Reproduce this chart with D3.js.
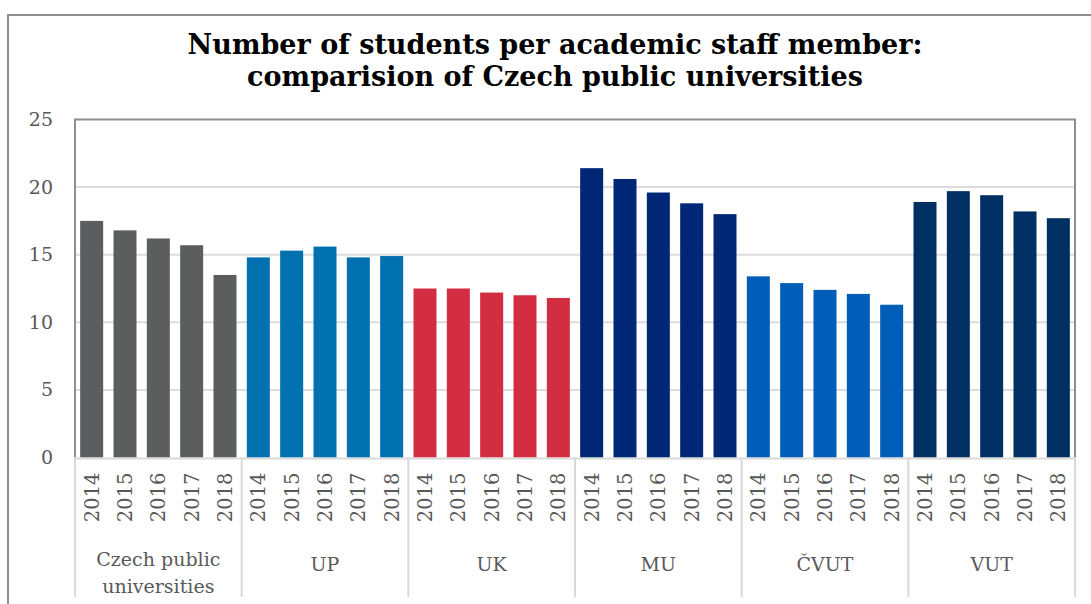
<!DOCTYPE html>
<html>
<head>
<meta charset="utf-8">
<script src="https://cdn.jsdelivr.net/npm/d3@7"></script>
<style>
  html, body { margin: 0; padding: 0; background: #fff; }
  svg { display: block; }
</style>
</head>
<body>
<svg id="chart" width="1091" height="604"></svg>
<script>
const groups = ["Czech public universities", "UP", "UK", "MU", "ČVUT", "VUT"];
const groupLabelLines = [["Czech public", "universities"], ["UP"], ["UK"], ["MU"], ["ČVUT"], ["VUT"]];
const years = ["2014", "2015", "2016", "2017", "2018"];
const groupColors = ["#5c5d5f", "#0070ae", "#d22d40", "#002776", "#005eb8", "#002f63"];
const valuesCzech = [17.5, 16.8, 16.2, 15.7, 13.5];
const valuesUP = [14.8, 15.3, 15.6, 14.8, 14.9];
const valuesUK = [12.5, 12.5, 12.2, 12.0, 11.8];
const valuesMU = [21.4, 20.6, 19.6, 18.8, 18.0];
const valuesCVUT = [13.4, 12.9, 12.4, 12.1, 11.3];
const valuesVUT = [18.9, 19.7, 19.4, 18.2, 17.7];
const yTicks = [0, 5, 10, 15, 20, 25];
const title = ["Number of students per academic staff member:", "comparision of Czech public universities"];

const allValues = [valuesCzech, valuesUP, valuesUK, valuesMU, valuesCVUT, valuesVUT];
const data = [];
allValues.forEach((vals, gi) => vals.forEach((v, yi) => data.push({ group: gi, year: years[yi], value: v, key: gi + "-" + yi })));

const svg = d3.select("#chart");
const pLeft = 75, pRight = 1075, pTop = 119.5, pBottom = 457.5;
const textColor = "#595959";
const serif = "'DejaVu Serif', 'Liberation Serif', serif";

// outer frame
svg.append("path").attr("d", `M8,${604 + 5} L8,15 L${1091 + 5},15`)
  .attr("fill", "none").attr("stroke", "#8e8e8e").attr("stroke-width", 2);

// title
const t = svg.append("text").attr("text-anchor", "middle")
  .attr("font-family", serif).attr("font-weight", "bold").attr("font-size", 27).attr("fill", "#000");
title.forEach((line, i) => t.append("tspan").attr("x", 555).attr("y", 54 + i * 31.5).text(line));

const x = d3.scaleBand().domain(data.map(d => d.key)).range([pLeft, pRight]).paddingInner(0.31).paddingOuter(0.155);
const y = d3.scaleLinear().domain([0, 25]).range([pBottom, pTop]);

// gridlines
svg.append("g").selectAll("line").data(yTicks.filter(v => v > 0 && v < 25)).join("line")
  .attr("x1", pLeft).attr("x2", pRight).attr("y1", d => y(d)).attr("y2", d => y(d))
  .attr("stroke", "#dcdcdc").attr("stroke-width", 2);

// bars
svg.append("g").selectAll("rect").data(data).join("rect")
  .attr("x", d => x(d.key)).attr("width", x.bandwidth())
  .attr("y", d => y(d.value)).attr("height", d => y(0) - y(d.value))
  .attr("fill", d => groupColors[d.group]);

// plot frame (left, top, right)
svg.append("path").attr("d", `M${pLeft},${pBottom} L${pLeft},${pTop} L${pRight},${pTop} L${pRight},${pBottom}`)
  .attr("fill", "none").attr("stroke", "#8e8e8e").attr("stroke-width", 2);

// x axis line
svg.append("line").attr("x1", pLeft).attr("x2", pRight).attr("y1", pBottom + 1).attr("y2", pBottom + 1)
  .attr("stroke", "#d9d9d9").attr("stroke-width", 2);

// y axis labels
const yAxis = d3.axisLeft(y).tickValues(yTicks).tickSize(0).tickPadding(0);
const yg = svg.append("g").attr("transform", `translate(53,0)`).call(yAxis);
yg.select(".domain").remove();
yg.selectAll("text").attr("font-family", serif).attr("font-size", 19).attr("fill", textColor);

// group separators
const groupWidth = (pRight - pLeft) / groups.length;
const sepX = d3.range(groups.length + 1).map(i => pLeft + i * groupWidth);
svg.append("g").selectAll("line").data(sepX).join("line")
  .attr("x1", d => d).attr("x2", d => d).attr("y1", pBottom).attr("y2", 597)
  .attr("stroke", "#d9d9d9").attr("stroke-width", 2);

// year labels (rotated)
svg.append("g").selectAll("text").data(data).join("text")
  .attr("transform", d => `translate(${x(d.key) + x.bandwidth() / 2 + 7},${pBottom + 15}) rotate(-90)`)
  .attr("text-anchor", "end")
  .attr("font-family", serif).attr("font-size", 19.5).attr("fill", textColor)
  .text(d => d.year);

// group labels
const gl = svg.append("g").selectAll("text").data(groupLabelLines).join("text")
  .attr("text-anchor", "middle").attr("font-family", serif).attr("font-size", 19).attr("fill", textColor);
gl.each(function(lines, i) {
  const cx = pLeft + (i + 0.5) * groupWidth;
  const y0 = lines.length > 1 ? 566 : 571;
  d3.select(this).selectAll("tspan").data(lines).join("tspan")
    .attr("x", cx).attr("y", (d, j) => y0 + j * 27).text(d => d);
});
</script>
</body>
</html>
